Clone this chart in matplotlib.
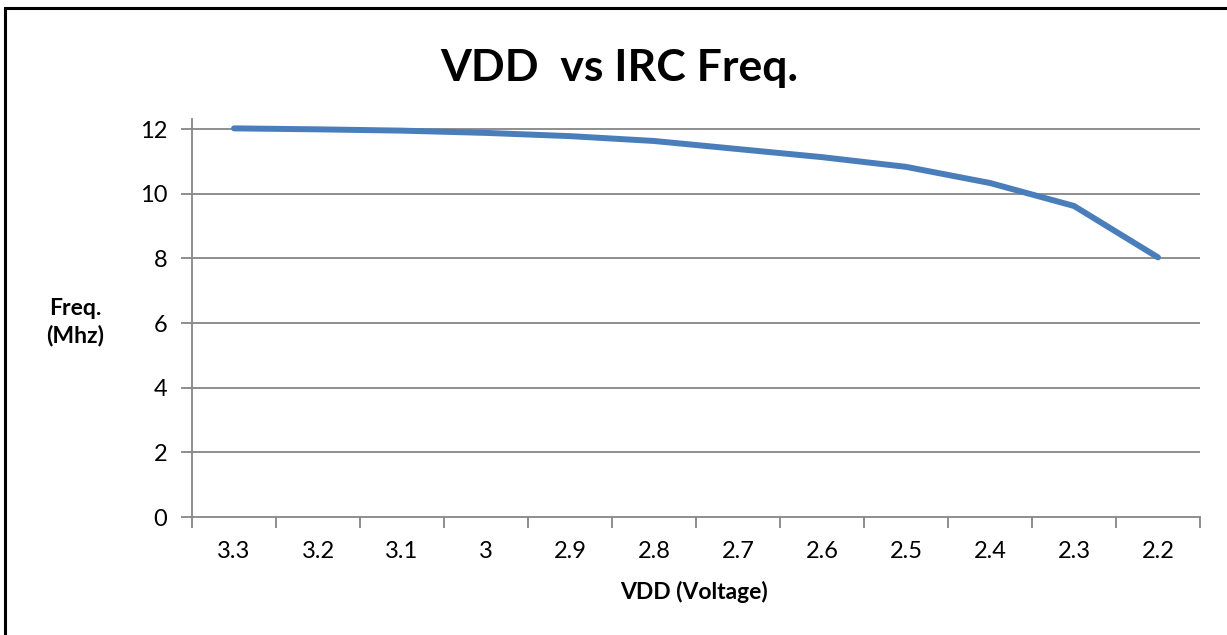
import matplotlib.pyplot as plt
from matplotlib.patches import Rectangle

# data
vdd_labels = ["3.3", "3.2", "3.1", "3", "2.9", "2.8", "2.7", "2.6", "2.5", "2.4", "2.3", "2.2"]
freq_mhz = [12.02, 11.99, 11.95, 11.88, 11.78, 11.63, 11.38, 11.13, 10.83, 10.33, 9.62, 8.03]
y_ticks = [0, 2, 4, 6, 8, 10, 12]

plt.rcParams['font.family'] = ['Lato', 'DejaVu Sans']

fig = plt.figure(figsize=(12.27, 6.35), dpi=100)
ax = fig.add_axes([0.1565, 0.1858, 0.8215, 0.6263])

grey = "#868686"
x = [i + 0.5 for i in range(len(vdd_labels))]
ax.plot(x, freq_mhz, color="#4A7EBB", linewidth=4.3, solid_capstyle="round", zorder=3)

# horizontal grid lines at the y ticks
for yt in y_ticks[1:]:
    ax.axhline(yt, color=grey, linewidth=1.3, zorder=1)

ax.set_xlim(0, len(vdd_labels))
ax.set_ylim(0, 12.3)
ax.set_yticks(y_ticks)
ax.set_yticklabels([str(v) for v in y_ticks], fontsize=17)

# category ticks between labels, labels centred in each slot
ax.set_xticks(range(len(vdd_labels) + 1))
ax.set_xticklabels([])
ax.set_xticks(x, minor=True)
ax.set_xticklabels(vdd_labels, minor=True, fontsize=17)
ax.tick_params(axis="x", which="minor", length=0, pad=17)
ax.tick_params(axis="x", which="major", length=8, width=1.3, color=grey, direction="out")
ax.tick_params(axis="y", length=8, width=1.3, color=grey, direction="out", pad=10)

for s in ["top", "right"]:
    ax.spines[s].set_visible(False)
for s in ["left", "bottom"]:
    ax.spines[s].set_color(grey)
    ax.spines[s].set_linewidth(1.3)

fig.text(0.505, 0.893, "VDD  vs IRC Freq.", ha="center", va="center", fontsize=32, fontweight="bold")
fig.text(0.061, 0.493, "Freq.\n(Mhz)", ha="center", va="center", fontsize=16.5, fontweight="bold", linespacing=1.3)
fig.text(0.566, 0.068, "VDD (Voltage)", ha="center", va="center", fontsize=16.5, fontweight="bold")

# chart frame (only the left and top edges fall inside the picture)
fig.patches.append(Rectangle((5 / 1227, -0.1), 1.2, 1 - 8 / 635 + 0.1, transform=fig.transFigure,
                             fill=False, edgecolor="black", linewidth=2.2))

fig.savefig("out.png", dpi=100, facecolor="white")
